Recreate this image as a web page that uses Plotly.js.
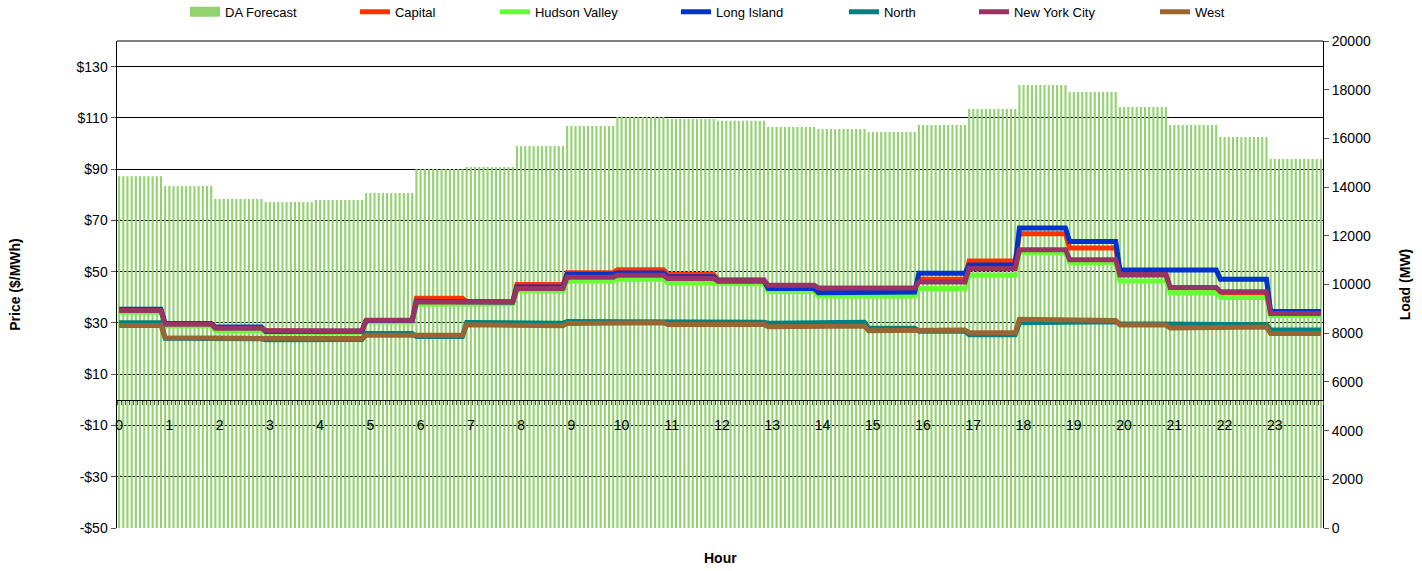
<!DOCTYPE html>
<html>
<head>
<meta charset="utf-8">
<script src="https://cdn.plot.ly/plotly-3.0.1.min.js"></script>
<style>html,body{margin:0;padding:0;background:#fff;}#chart{width:1422px;height:571px;}</style>
</head>
<body>
<div id="chart"></div>
<script>
// Hour labels
const hours = [0,1,2,3,4,5,6,7,8,9,10,11,12,13,14,15,16,17,18,19,20,21,22,23];
// Day-ahead load forecast (MW), hourly
const daForecast = [14450,14050,13510,13390,13470,13760,14740,14830,15690,16510,16880,16800,16720,16470,16390,16260,16550,17210,18190,17910,17290,16550,16060,15150];
// Real-time prices ($/MWh), hourly
const capital      = [35.0,29.5,27.2,26.8,26.6,31.0,39.6,38.3,45.0,49.6,50.8,48.9,46.9,44.3,43.3,43.3,47.0,54.2,64.8,59.2,49.1,43.6,41.4,33.6];
const hudsonValley = [34.2,28.8,27.0,26.4,26.3,30.4,37.3,37.5,42.6,46.4,47.0,45.7,45.3,42.3,40.5,40.5,43.4,48.6,57.5,53.6,46.4,41.8,39.9,32.9];
const longIsland   = [35.3,29.8,28.4,26.7,26.8,31.0,38.5,38.2,44.0,49.0,49.5,48.0,46.4,43.4,41.8,42.1,49.4,52.6,67.0,61.8,50.7,50.7,47.0,34.5];
const north        = [30.1,24.0,23.8,23.4,23.5,25.9,24.7,30.2,29.9,30.6,30.6,30.6,30.3,29.9,30.3,27.9,26.8,25.4,30.1,30.5,29.7,29.3,29.3,27.2];
const newYorkCity  = [34.9,29.5,27.9,27.0,27.0,31.1,38.2,38.2,43.4,47.8,48.6,47.3,46.4,44.7,43.6,43.6,46.0,51.2,58.6,54.7,48.7,43.8,42.2,33.7];
const west         = [29.0,24.2,24.2,23.9,23.9,25.2,25.2,29.3,28.9,29.8,30.1,29.4,29.4,28.5,28.8,27.0,27.2,26.2,31.4,31.0,29.2,28.0,28.4,25.9];
// Left axis tick labels
const priceTicks = [-50,-30,-10,10,30,50,70,90,110,130];
const priceTickText = ['-$50','-$30','-$10','$10','$30','$50','$70','$90','$110','$130'];

// the chart plots 5-minute intervals (12 per hour); each interval shows its hour's value
const PER_HOUR = 12;
const nInt = hours.length * PER_HOUR;
const xs = Array.from({length: nInt}, (_, i) => (i + 0.5) / PER_HOUR);
function expand(arr) {
  return Array.from({length: nInt}, (_, i) => arr[Math.min(arr.length - 1, Math.floor((i + 1) / PER_HOUR))]);
}

const barColor = '#92D36F';
const font = 'Liberation Sans, Arial, sans-serif';

const seriesDefs = [
  {name: 'Capital', data: capital, color: '#FF3300'},
  {name: 'Hudson Valley', data: hudsonValley, color: '#66FF33'},
  {name: 'Long Island', data: longIsland, color: '#0033CC'},
  {name: 'North', data: north, color: '#008080'},
  {name: 'New York City', data: newYorkCity, color: '#993366'},
  {name: 'West', data: west, color: '#996633'}
];

const traces = [
  {type: 'bar', x: xs, y: expand(daForecast), yaxis: 'y', xaxis: 'x',
   marker: {color: barColor, line: {width: 0}}, showlegend: false, name: 'DA Forecast'},
  {type: 'scatter', mode: 'lines', x: [null], y: [null], yaxis: 'y2',
   line: {color: barColor, width: 10}, name: 'DA Forecast', legend: 'legend'}
];
seriesDefs.forEach((s, k) => {
  traces.push({type: 'scatter', mode: 'lines', x: xs, y: expand(s.data), yaxis: 'y2', xaxis: 'x',
    line: {color: s.color, width: 5}, name: s.name, legend: 'legend' + (k + 2)});
});

const legendX = [0.0564, 0.1973, 0.3134, 0.4635, 0.6028, 0.7106, 0.8607];
const layout = {
  width: 1422, height: 571,
  margin: {l: 117, r: 99, t: 41, b: 43, pad: 0, autoexpand: false},
  paper_bgcolor: '#fff', plot_bgcolor: '#fff',
  font: {family: font, size: 14, color: '#000'},
  bargap: 0.5,
  xaxis: {
    range: [0, 24], anchor: 'free', position: 50 / 190,
    showline: true, linecolor: '#000', linewidth: 1.5,
    showgrid: false, zeroline: false,
    tickmode: 'array', tickvals: hours.map(h => h + 0.5 / PER_HOUR), ticktext: hours.map(String),
    ticks: '', ticklabelstandoff: 12, tickfont: {size: 14},
    minor: {tickmode: 'linear', tick0: 0, dtick: 1 / PER_HOUR, ticks: 'outside', ticklen: 4, tickcolor: '#555', tickwidth: 1, showgrid: false}
  },
  yaxis: {
    range: [0, 20000], tick0: 0, dtick: 2000, side: 'right', tickformat: 'd',
    showgrid: false, zeroline: false, showline: true, linecolor: '#000', linewidth: 1,
    ticks: 'outside', ticklen: 5, tickcolor: '#555', tickfont: {size: 14},
    title: {text: 'Load (MW)', font: {size: 14, weight: 'bold'}, standoff: 30}
  },
  yaxis2: {
    overlaying: 'y', side: 'left', range: [-50, 140],
    tickmode: 'array', tickvals: priceTicks, ticktext: priceTickText,
    showgrid: true, gridcolor: '#000', gridwidth: 1, zeroline: false,
    showline: true, linecolor: '#000', linewidth: 1.5,
    ticks: 'outside', ticklen: 5, tickcolor: '#555', tickfont: {size: 14},
    title: {text: 'Price ($/MWh)', font: {size: 14, weight: 'bold'}, standoff: 52}
  },
  shapes: [
    {type: 'line', xref: 'paper', yref: 'paper', x0: 0, x1: 1, y0: 1, y1: 1, line: {color: '#000', width: 1}}
  ],
  annotations: [
    {text: 'Hour', xref: 'paper', yref: 'paper', x: 0.5, y: -30 / 487, xanchor: 'center', yanchor: 'middle',
     showarrow: false, font: {size: 14, weight: 'bold'}}
  ]
};
legendX.forEach((lx, k) => {
  const key = k === 0 ? 'legend' : 'legend' + (k + 1);
  layout[key] = {x: lx, y: 1.06, xanchor: 'left', yanchor: 'middle', orientation: 'h',
    bgcolor: 'rgba(0,0,0,0)', borderwidth: 0, font: {size: 13, family: font}, tracegroupgap: 0};
});

Plotly.newPlot('chart', traces, layout, {staticPlot: true, displayModeBar: false});
</script>
</body>
</html>
